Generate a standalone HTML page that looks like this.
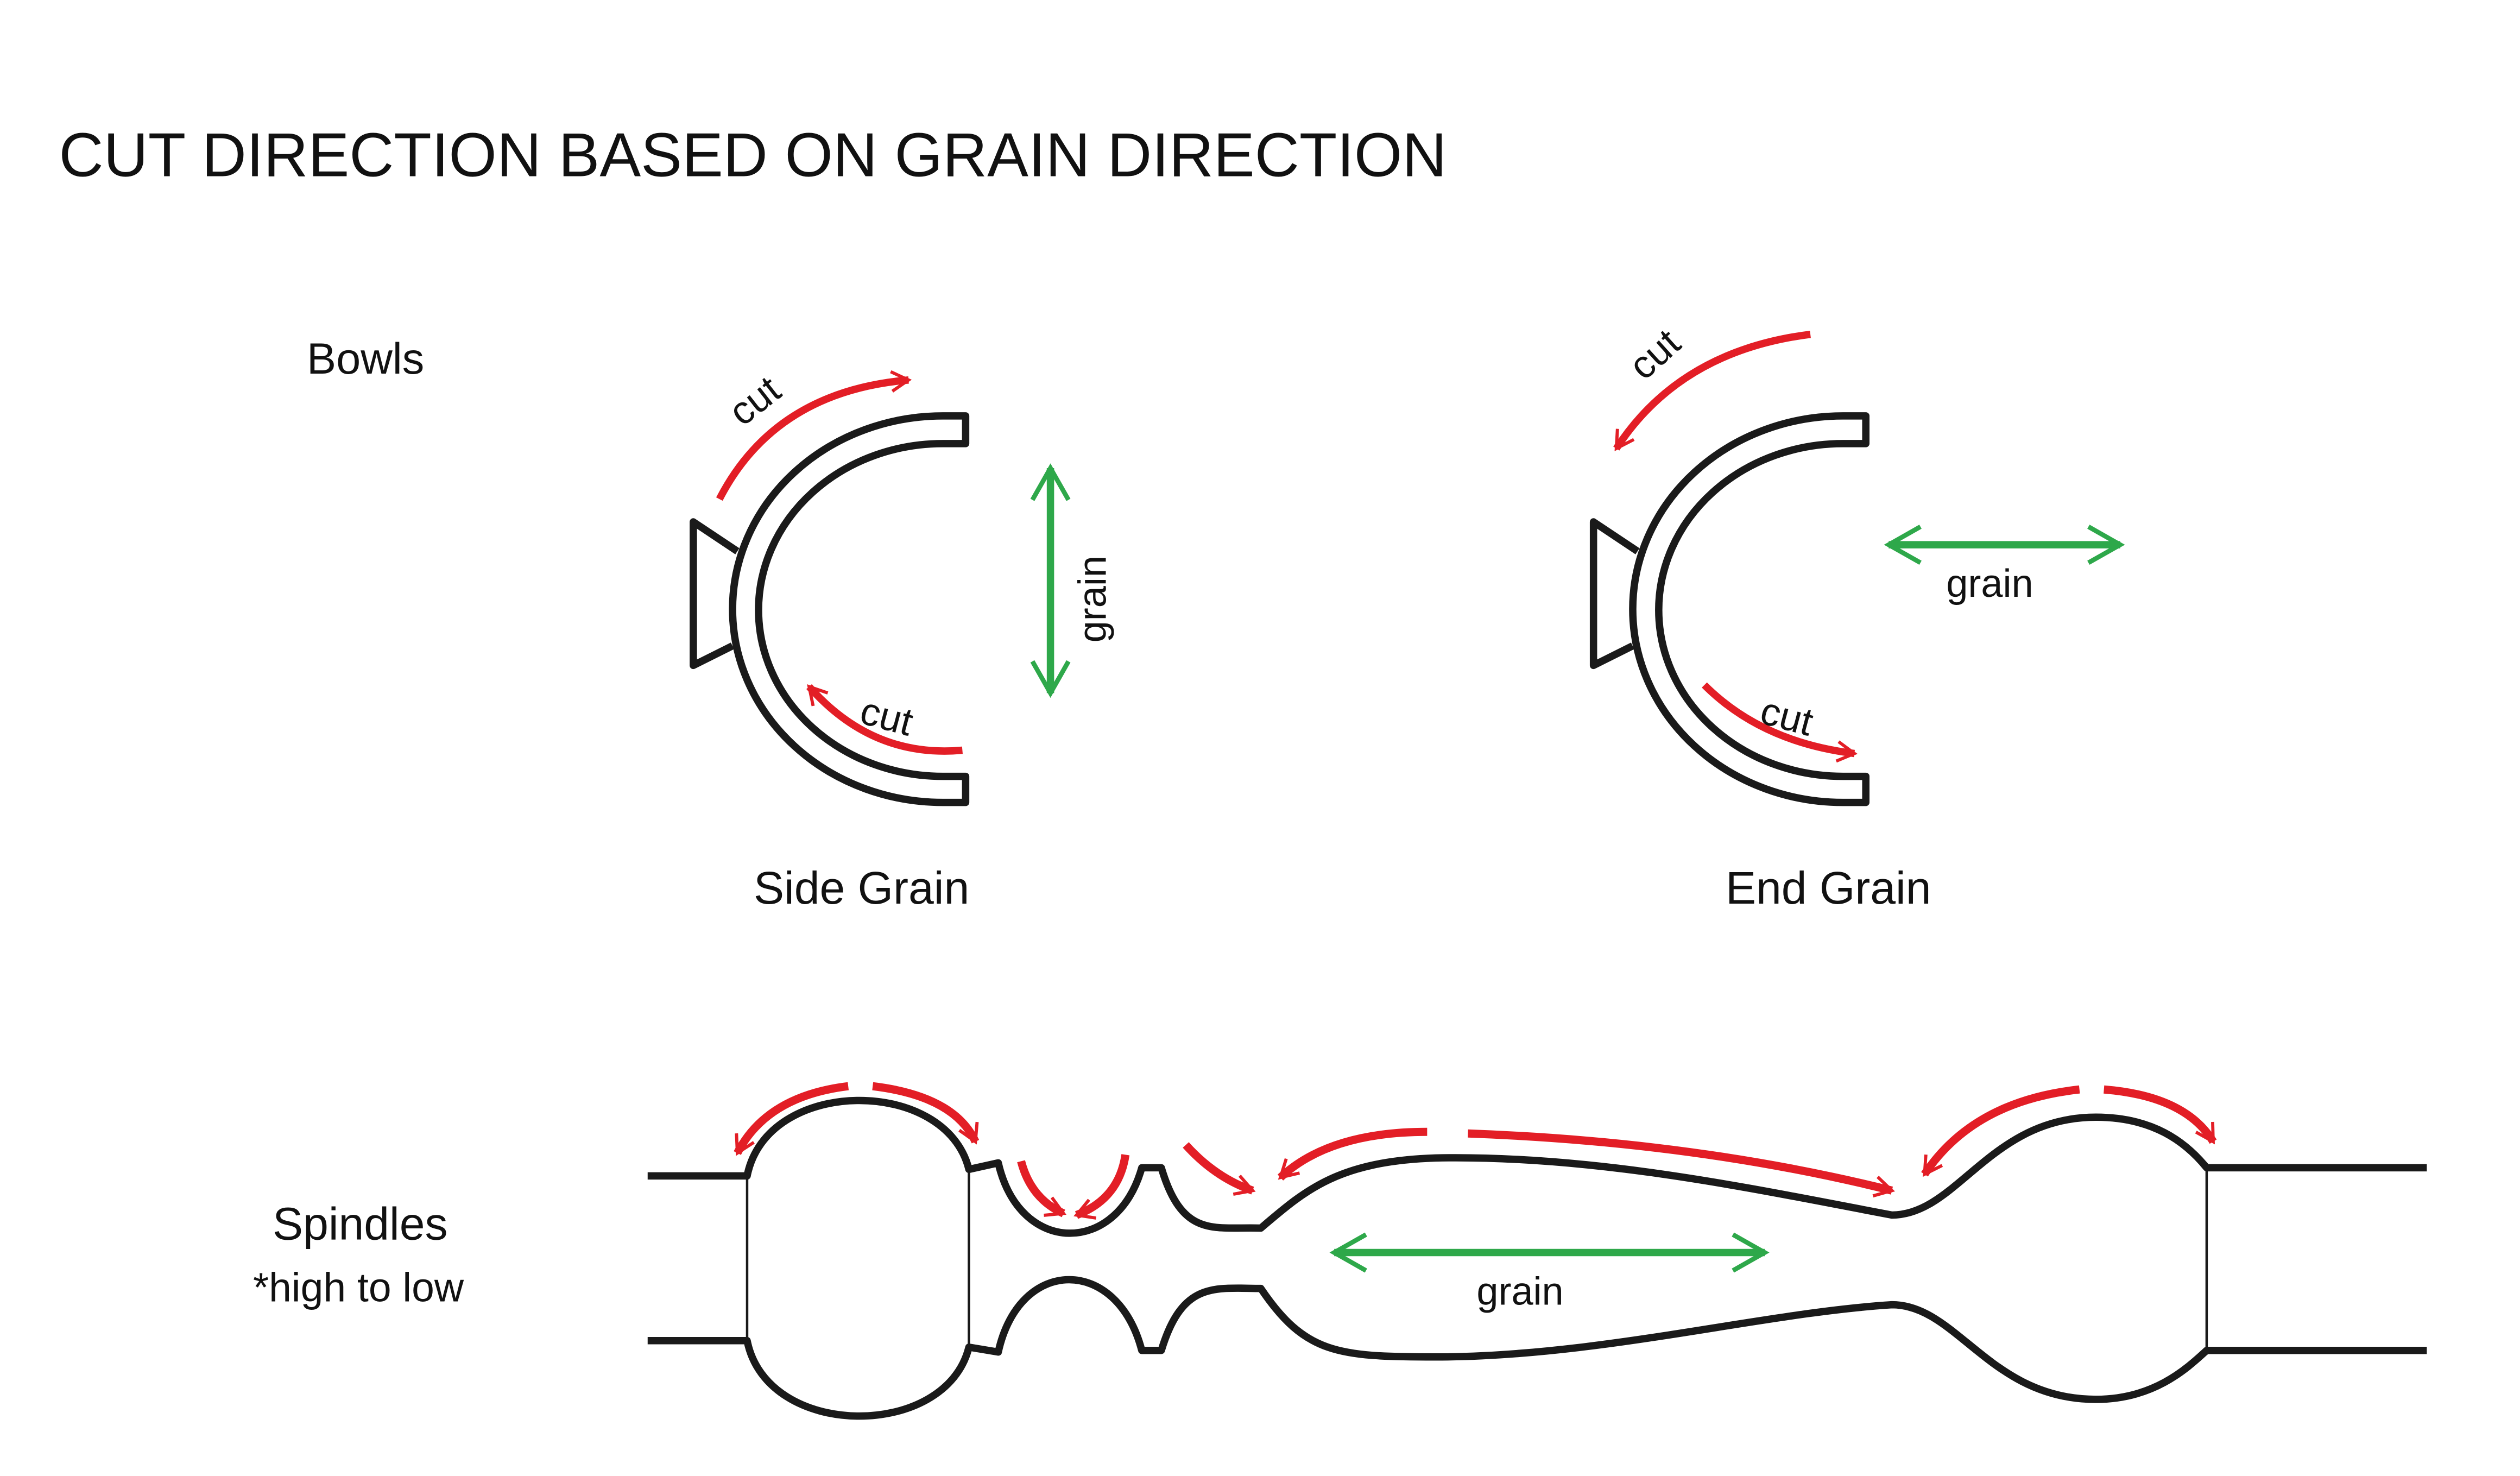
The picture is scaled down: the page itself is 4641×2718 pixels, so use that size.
<!DOCTYPE html>
<html><head><meta charset="utf-8"><style>
html,body{margin:0;padding:0;background:#fff;}
svg{display:block;}
text{font-family:"Liberation Sans","DejaVu Sans",sans-serif;fill:#111;}
</style></head><body>
<svg width="4641" height="2718" viewBox="0 0 1545 905" xmlns="http://www.w3.org/2000/svg">
<defs>
<marker id="r" viewBox="0 0 20 20" refX="17" refY="10" markerWidth="15" markerHeight="15" markerUnits="userSpaceOnUse" orient="auto">
<path d="M3,2 L17,10 L3,18" fill="none" stroke="#e31e26" stroke-width="2.6"/></marker>
<marker id="g" viewBox="0 0 20 20" refX="17" refY="10" markerWidth="26" markerHeight="26" markerUnits="userSpaceOnUse" orient="auto-start-reverse">
<path d="M2,1.5 L17,10 L2,18.5" fill="none" stroke="#2ea84a" stroke-width="2.2"/></marker>
</defs>
<rect width="1545" height="905" fill="#fff"/>
<text x="36" y="108" font-size="38" textLength="851" lengthAdjust="spacingAndGlyphs">CUT DIRECTION BASED ON GRAIN DIRECTION</text>
<text x="188" y="229" font-size="27">Bowls</text>

<!-- Side grain bowl -->
<g fill="none" stroke="#1a1a1a" stroke-width="4.5" stroke-linejoin="round">
<path d="M592,255 H578 A129,118.5 0 0 0 578,492 H592 V476 H578 A113,102 0 0 1 578,272 H592 Z"/>
<path d="M452,338 L425,320 V408 L449,396"/>
</g>
<g fill="none" stroke="#e31e26" stroke-width="4.5">
<path d="M441,306 Q475,240 557,233" marker-end="url(#r)"/>
<path d="M590,460 Q535,465 496,421" marker-end="url(#r)"/>
</g>
<text font-size="24" transform="translate(455,262) rotate(-38)">cut</text>
<text font-size="24" transform="translate(526,443) rotate(15)">cut</text>
<line x1="644" y1="287" x2="644" y2="425" stroke="#2ea84a" stroke-width="4.5" marker-start="url(#g)" marker-end="url(#g)"/>
<text font-size="24" transform="translate(678,394) rotate(-90)">grain</text>
<text x="462" y="554" font-size="28">Side Grain</text>

<!-- End grain bowl -->
<g transform="translate(552,0)" fill="none" stroke="#1a1a1a" stroke-width="4.5" stroke-linejoin="round">
<path d="M592,255 H578 A129,118.5 0 0 0 578,492 H592 V476 H578 A113,102 0 0 1 578,272 H592 Z"/>
<path d="M452,338 L425,320 V408 L449,396"/>
</g>
<g fill="none" stroke="#e31e26" stroke-width="4.5">
<path d="M1110,205 Q1030,215 991,275" marker-end="url(#r)"/>
<path d="M1045,420 Q1080,455 1137,462" marker-end="url(#r)"/>
</g>
<text font-size="24" transform="translate(1008,234) rotate(-42)">cut</text>
<text font-size="24" transform="translate(1078,443) rotate(15)">cut</text>
<line x1="1158" y1="334" x2="1300" y2="334" stroke="#2ea84a" stroke-width="4.5" marker-start="url(#g)" marker-end="url(#g)"/>
<text x="1220" y="366" font-size="24" text-anchor="middle">grain</text>
<text x="1058" y="554" font-size="28">End Grain</text>

<!-- Spindles -->
<text x="167" y="760" font-size="28">Spindles</text>
<text x="155" y="798" font-size="25">*high to low</text>
<g fill="none" stroke="#1a1a1a" stroke-width="4.5" stroke-linejoin="round">
<path d="M397,721 H458 C470,660 580,660 594,717 L612,713 C625,770 685,770 700,716 H712 C725,760 745,752 773,753 C800,730 820,712 880,710 C980,708 1080,730 1160,745 C1200,745 1220,685 1285,685 C1320,685 1340,700 1353,716 H1488"/>
<path d="M397,822 H458 C470,883 580,883 594,826 L612,829 C625,770 685,770 700,828 H712 C725,785 745,790 773,790 C800,830 820,832 880,832 C980,832 1080,805 1160,800 C1200,800 1220,858 1285,858 C1320,858 1340,840 1353,828 H1488"/>
</g>
<g stroke="#1a1a1a" stroke-width="1.5">
<line x1="458" y1="721" x2="458" y2="822"/>
<line x1="594" y1="717" x2="594" y2="826"/>
<line x1="1353" y1="716" x2="1353" y2="828"/>
</g>
<g fill="none" stroke="#e31e26" stroke-width="5">
<path d="M520,666 Q470,672 452,707" marker-end="url(#r)"/>
<path d="M535,666 Q585,672 598,700" marker-end="url(#r)"/>
<path d="M626,712 Q632,735 652,744" marker-end="url(#r)"/>
<path d="M690,708 Q686,735 660,745" marker-end="url(#r)"/>
<path d="M727,702 Q745,722 768,730" marker-end="url(#r)"/>
<path d="M875,694 Q815,694 785,722" marker-end="url(#r)"/>
<path d="M900,695 Q1040,700 1160,730" marker-end="url(#r)"/>
<path d="M1275,668 Q1210,675 1180,720" marker-end="url(#r)"/>
<path d="M1290,668 Q1340,672 1357,700" marker-end="url(#r)"/>
</g>
<line x1="818" y1="768" x2="1082" y2="768" stroke="#2ea84a" stroke-width="4.5" marker-start="url(#g)" marker-end="url(#g)"/>
<text x="932" y="800" font-size="24" text-anchor="middle">grain</text>
</svg>
</body></html>
